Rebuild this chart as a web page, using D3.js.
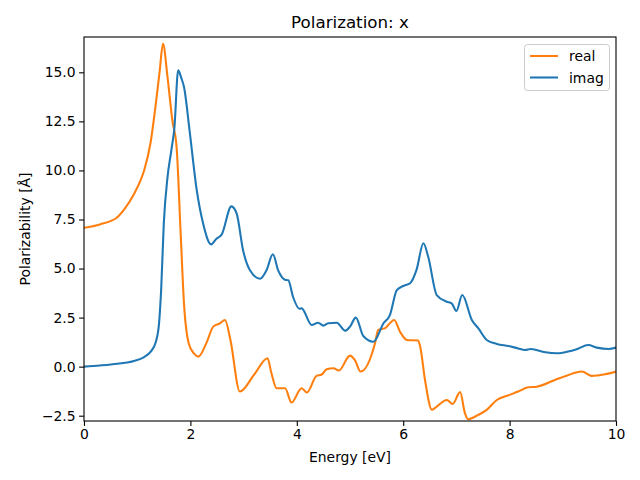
<!DOCTYPE html>
<html><head><meta charset="utf-8">
<script src="https://cdn.jsdelivr.net/npm/d3@7"></script>
<style>body{margin:0;background:#fff}text{font-family:"DejaVu Sans",sans-serif}</style>
</head><body>
<script>
const realX = [0,0.3,0.62,0.78,0.94,1.04,1.13,1.25,1.35,1.42,1.485,1.57,1.66,1.74,1.82,1.88,1.97,2.07,2.15,2.3,2.43,2.55,2.65,2.75,2.93,3.2,3.45,3.52,3.62,3.78,3.90,4.09,4.19,4.37,4.47,4.56,4.69,4.79,5.0,5.09,5.2,5.47,5.53,5.66,5.83,5.94,6.07,6.28,6.32,6.41,6.54,6.6,6.82,6.93,7.07,7.16,7.22,7.41,7.57,7.76,8.0,8.16,8.35,8.51,8.85,9.07,9.36,9.54,9.79,10];
const realY = [7.08,7.25,7.6,8.1,8.8,9.35,10.0,11.4,13.4,15.0,16.45,14.76,12.57,11.2,6.6,3.2,1.17,0.66,0.51,1.2,2.04,2.2,2.38,1.4,-1.27,-0.4,0.43,-0.3,-1.10,-1.10,-1.83,-1.1,-1.32,-0.47,-0.4,-0.13,-0.08,-0.2,0.56,0.34,-0.25,1.19,1.87,1.96,2.38,1.78,1.36,1.33,1.02,-0.68,-2.2,-2.1,-1.7,-1.9,-1.3,-2.37,-2.68,-2.46,-2.2,-1.7,-1.44,-1.27,-1.05,-1.02,-0.68,-0.46,-0.25,-0.47,-0.39,-0.25];
const imagX = [0,0.3,0.63,0.94,1.13,1.25,1.35,1.41,1.45,1.5,1.57,1.64,1.70,1.77,1.83,1.88,1.99,2.12,2.24,2.39,2.49,2.59,2.77,2.87,2.99,3.12,3.31,3.43,3.55,3.65,3.78,3.84,3.93,4.05,4.09,4.28,4.40,4.5,4.59,4.75,4.91,5.0,5.11,5.25,5.44,5.63,5.75,5.88,6.0,6.13,6.25,6.38,6.47,6.63,6.82,6.91,7.0,7.11,7.29,7.41,7.57,7.76,7.98,8.16,8.29,8.4,8.67,8.89,9.1,9.26,9.48,9.64,9.86,10];
const imagY = [0.0,0.06,0.15,0.29,0.49,0.75,1.26,2.19,3.9,7.3,9.66,11.0,12.2,15.1,14.7,14.25,11.9,8.98,7.28,6.23,6.52,6.74,8.17,7.8,5.93,4.91,4.48,4.91,5.73,4.91,4.43,4.4,3.55,2.95,2.97,2.12,2.24,2.09,2.21,2.24,1.83,2.04,2.5,1.56,1.27,2.21,2.63,3.9,4.11,4.25,4.93,6.29,5.6,3.65,3.31,3.23,2.84,3.65,2.38,1.96,1.36,1.16,1.05,0.93,0.85,0.9,0.73,0.68,0.77,0.89,1.1,0.97,0.9,0.97];
const xTicks = [0,2,4,6,8,10];
const yTicks = [-2.5,0,2.5,5,7.5,10,12.5,15];
const seriesNames = ["real","imag"];
const colors = ["#ff7f0e","#1f77b4"];

const W=640,H=480, L=84,R=616,T=37,B=421;
const svg=d3.select("body").append("svg").attr("width",W).attr("height",H);
const x=d3.scaleLinear().domain([0,10]).range([L,R]);
const y=d3.scaleLinear().domain([-2.77,16.8]).range([B,T]);

svg.append("clipPath").attr("id","c").append("rect").attr("x",L).attr("y",T).attr("width",R-L).attr("height",B-T);
const line=d3.line().x(d=>x(d[0])).y(d=>y(d[1])).curve(d3.curveMonotoneX);
const data=[d3.zip(realX,realY), d3.zip(imagX,imagY)];
data.forEach((d,i)=>{
  svg.append("path").datum(d).attr("d",line).attr("fill","none").attr("stroke",colors[i])
    .attr("stroke-width",2.08).attr("stroke-linejoin","round").attr("stroke-linecap","square").attr("clip-path","url(#c)");
});

const fmt=v=>v.toFixed(1).replace("-","\u2212");
const xa=svg.append("g").attr("transform",`translate(0,${B})`)
  .call(d3.axisBottom(x).tickValues(xTicks).tickFormat(d3.format("d")).tickSizeOuter(0).tickSize(4.9).tickPadding(3.5));
const ya=svg.append("g").attr("transform",`translate(${L},0)`)
  .call(d3.axisLeft(y).tickValues(yTicks).tickFormat(fmt).tickSizeOuter(0).tickSize(4.9).tickPadding(3.5));
[xa,ya].forEach(g=>{g.select(".domain").remove();g.selectAll("line").attr("stroke","#000").attr("stroke-width",1.1);
  g.selectAll("text").attr("font-size",13.9).attr("fill","#000").style("font-family","DejaVu Sans");});

svg.append("rect").attr("x",L).attr("y",T).attr("width",R-L).attr("height",B-T).attr("fill","none").attr("stroke","#000").attr("stroke-width",1.1);

svg.append("text").attr("x",(L+R)/2).attr("y",28).attr("text-anchor","middle").attr("font-size",16.7).text("Polarization: x");
svg.append("text").attr("x",(L+R)/2).attr("y",462).attr("text-anchor","middle").attr("font-size",13.9).text("Energy [eV]");
svg.append("text").attr("transform",`translate(30,${(T+B)/2}) rotate(-90)`).attr("text-anchor","middle").attr("font-size",13.9).text("Polarizability [Å]");

const lg=svg.append("g");
lg.append("rect").attr("x",524.5).attr("y",44.5).attr("width",85).attr("height",46).attr("rx",3).attr("fill","#fff").attr("fill-opacity",0.8).attr("stroke","#cccccc").attr("stroke-width",1);
seriesNames.forEach((n,i)=>{
  const yy=56+i*21.5;
  lg.append("line").attr("x1",530).attr("x2",558).attr("y1",yy).attr("y2",yy).attr("stroke",colors[i]).attr("stroke-width",2.08);
  lg.append("text").attr("x",569).attr("y",yy+5).attr("font-size",13.9).text(n);
});
</script>
</body></html>
